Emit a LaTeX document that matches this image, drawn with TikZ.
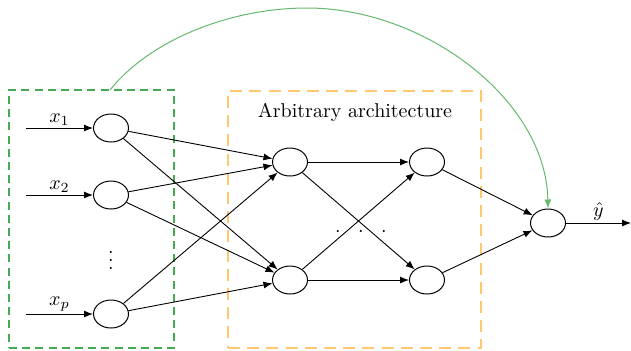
\documentclass[tikz,border=0pt]{standalone}
\usetikzlibrary{shapes.geometric,arrows.meta}
\definecolor{boxgreen}{RGB}{70,170,85}
\definecolor{arcgreen}{RGB}{100,185,110}
\definecolor{boxorange}{RGB}{255,200,110}
\begin{document}
\begin{tikzpicture}[x=0.5pt,y=-0.5pt,
  neuron/.style={draw,ellipse,minimum width=17.5pt,minimum height=14pt,inner sep=0pt,line width=0.5pt},
  conn/.style={-{Latex[length=4.5pt,width=3.5pt]},line width=0.45pt},
  gbox/.style={draw=boxgreen,line width=0.9pt,dash pattern=on 4pt off 2.6pt,minimum width=82.5pt,minimum height=129pt,inner sep=0pt},
  obox/.style={draw=boxorange,line width=0.9pt,dash pattern=on 6pt off 3.6pt,minimum width=126.5pt,minimum height=128.5pt,inner sep=0pt},
  lab/.style={inner sep=1pt,font=\normalsize}]
\useasboundingbox (0,0) rectangle (631,350);
\node[gbox] (gb) at (91.5,219) {};
\node[obox] (ob) at (354.5,219.5) {};
\node[lab] (title) at (355,112) {Arbitrary architecture};
% input layer
\node[neuron] (i1) at (111,128) {};
\node[neuron] (i2) at (111,195) {};
\node[neuron] (ip) at (111,314) {};
\node (vd) at (111,254) {$\vdots$};
% hidden
\node[neuron] (a1) at (290,162) {};
\node[neuron] (a2) at (290,280) {};
\node[neuron] (b1) at (427,162) {};
\node[neuron] (b2) at (427,280) {};
\node (hd) at (361,232) {$\cdot\hspace{6.5pt}\cdot\hspace{6.5pt}\cdot$};
% output
\node[neuron] (o) at (548,223) {};
% input arrows
\coordinate (s1) at (26,128);
\coordinate (s2) at (26,195);
\coordinate (sp) at (26,314);
\draw[conn] (s1) -- node[lab,above] {$x_1$} (i1);
\draw[conn] (s2) -- node[lab,above] {$x_2$} (i2);
\draw[conn] (sp) -- node[lab,above] {$x_p$} (ip);
% connections
\foreach \s in {i1,i2,ip}{
  \draw[conn] (\s) -- (a1);
  \draw[conn] (\s) -- (a2);
}
\foreach \s in {a1,a2}{
  \draw[conn] (\s) -- (b1);
  \draw[conn] (\s) -- (b2);
}
\draw[conn] (b1) -- (o);
\draw[conn] (b2) -- (o);
\coordinate (oe) at (631,223);
\draw[conn] (o) -- node[lab,above] {$\hat{y}$} (oe);
% skip arc
\coordinate (arcs) at (110,90);
\coordinate (arcpeak) at (307,8);
\draw[arcgreen,line width=0.5pt,-{Latex[length=4.5pt,width=3.5pt]}] (arcs) .. controls (150,40) and (230,8) .. (arcpeak) .. controls (425,8) and (546,100) .. (o.north);
\end{tikzpicture}
\end{document}
